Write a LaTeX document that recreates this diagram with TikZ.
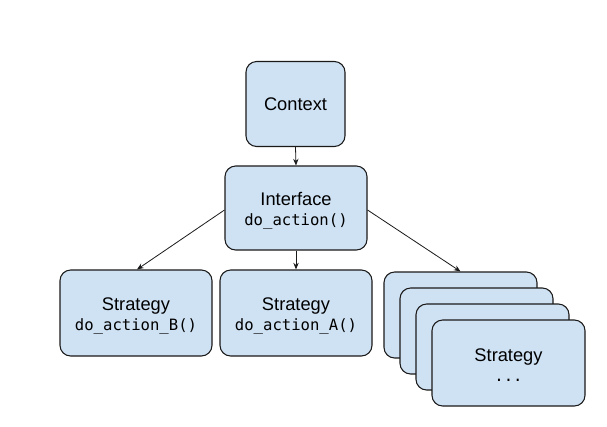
\documentclass[tikz,border=0pt]{standalone}
\usepackage{fontspec}
\setmainfont{Liberation Sans}
\setmonofont{DejaVu Sans Mono}
\usetikzlibrary{arrows.meta}
\definecolor{boxfill}{HTML}{CFE2F3}
\definecolor{boxline}{HTML}{1A1A1A}
\tikzset{
  box/.style={draw=boxline, line width=0.8pt, fill=boxfill, rounded corners=8pt,
    align=center, inner sep=0pt, font=\fontsize{13.7}{15}\selectfont},
  txt/.style={align=center, inner sep=0pt, font=\fontsize{13.7}{15}\selectfont},
  conn/.style={draw=boxline, line width=0.6pt, -{Stealth[length=5pt,width=4pt]}}
}
\newcommand{\cd}[1]{{\fontsize{11.7}{15}\selectfont\ttfamily #1}}
\begin{document}
\begin{tikzpicture}[x=0.75pt,y=-0.75pt]
\useasboundingbox (0,0) rectangle (607,426);
\node[box, minimum width=99*0.75pt, minimum height=85*0.75pt] (ctx) at (295.5,104) {Context};
\node[box, minimum width=142*0.75pt, minimum height=84*0.75pt] (ifc) at (296,208) {};
\node[txt] (ifct) at (296,210.5) {Interface\\\cd{do\_action()}};
\node[box, minimum width=152*0.75pt, minimum height=86*0.75pt] (sb) at (136,313) {};
\node[txt] (sbt) at (136,315.5) {Strategy\\\cd{do\_action\_B()}};
\node[box, minimum width=152*0.75pt, minimum height=86*0.75pt] (sa) at (296,313) {};
\node[txt] (sat) at (296,315.5) {Strategy\\\cd{do\_action\_A()}};
\node[box, minimum width=153*0.75pt, minimum height=86*0.75pt] (s1) at (460.5,315) {};
\node[box, minimum width=153*0.75pt, minimum height=86*0.75pt] (s2) at (476.5,331) {};
\node[box, minimum width=153*0.75pt, minimum height=86*0.75pt] (s3) at (492.5,347) {};
\node[box, minimum width=153*0.75pt, minimum height=86*0.75pt] (s4) at (508.5,363) {};
\node[txt] (s4t) at (508.5,365.5) {Strategy\\\cd{...}};
\draw[conn] (ctx.south) -- (ifc.north);
\draw[conn] ([yshift=-2*0.75pt]ifc.west) -- ([xshift=1*0.75pt]sb.north);
\draw[conn] (ifc.south) -- (sa.north);
\draw[conn] ([yshift=-2*0.75pt]ifc.east) -- (s1.north);
\end{tikzpicture}
\end{document}
